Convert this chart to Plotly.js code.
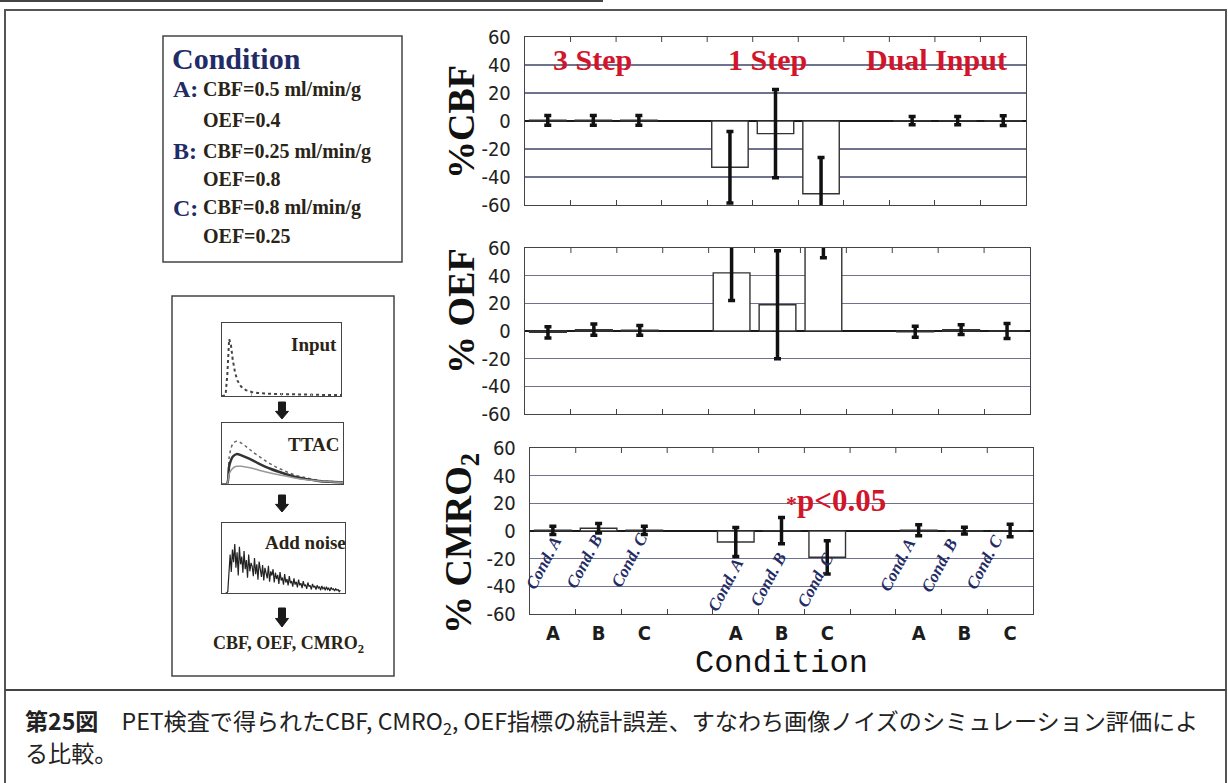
<!DOCTYPE html>
<html>
<head>
<meta charset="utf-8">
<script src="https://cdn.plot.ly/plotly-3.0.1.min.js"></script>
<style>
  html, body { margin: 0; padding: 0; background: #ffffff; }
  #fig { width: 1228px; height: 783px; }
</style>
</head>
<body>
<div id="fig"></div>
<script>
// ---- data ----
const methods = ['3 Step', '1 Step', 'Dual Input'];
const conditions = ['A', 'B', 'C'];

// percent error of each estimate (mean and SD) per method / condition
const cbfMean  = [0.5, 0.5, 0.5, -33, -9, -52, 0.3, 0.3, 0.3];
const cbfSD    = [3.5, 3.5, 3.5, 25.5, 31.5, 26, 3, 3, 3.5];
const oefMean  = [-1, 1, 0.5, 42, 19, 75, -0.5, 1, 0];
const oefSD    = [4, 4, 3.5, 20, 39, 22, 4, 3.5, 5.5];
const cmroMean = [0.5, 2, 0.5, -8, 0.3, -19, 0.5, 0.3, 0.3];
const cmroSD   = [3, 3.5, 3, 10.5, 9.5, 12, 4, 2.5, 4.5];

const yTicks = [60, 40, 20, 0, -20, -40, -60];
const yTickLabels = ['60', '40', '20', '0', '-20', '-40', '-60'];

const conditionNotes = [
  ['A:', 'CBF=0.5 ml/min/g'], ['', 'OEF=0.4'],
  ['B:', 'CBF=0.25 ml/min/g'], ['', 'OEF=0.8'],
  ['C:', 'CBF=0.8 ml/min/g'], ['', 'OEF=0.25']
];

// simulation flow thumbnails
const inputT = [0, 3, 4.5, 6, 7.5, 9, 11, 13, 16, 20, 25, 30, 40, 55, 70, 85, 100];
const inputC = [0, 1, 30, 78, 70, 50, 32, 21, 13, 8, 5.5, 4.2, 3, 2.2, 1.8, 1.5, 1.4];
const ttacT    = [0, 4, 6, 9, 12, 16, 22, 30, 40, 50, 60, 70, 80, 90, 100];
const ttacHigh = [0, 0, 45, 66, 70, 67, 58, 46, 33, 23, 15, 10, 6, 4, 3];
const ttacMid  = [0, 0, 30, 45, 49, 47, 42, 34, 25, 18, 12, 8, 5, 3.5, 2.5];
const ttacLow  = [0, 0, 17, 26, 29, 29, 27, 23, 18, 14, 10, 7, 5, 3.5, 2.5];
const noisyTTAC = [0, 0, 2, 38, 55, 30, 62, 44, 70, 36, 58, 25, 66, 41, 52, 29, 60, 34, 47, 22,
                   55, 31, 43, 38, 24, 50, 27, 41, 19, 45, 33, 23, 40, 18, 36, 28, 21, 39, 16, 31,
                   25, 34, 15, 29, 20, 26, 13, 30, 18, 22, 12, 27, 15, 20, 11, 24, 14, 17, 9, 21,
                   12, 16, 8, 19, 11, 14, 7, 17, 10, 12, 6, 15, 9, 11, 5, 13, 8, 10, 5, 11,
                   7, 9, 4, 10, 6, 8, 4, 9, 5, 7, 3, 8, 5, 6, 3, 6, 4, 5, 2, 4];

const captionLine1 = '<b>第25図</b>　PET検査で得られたCBF, CMRO<sub>2</sub>, OEF指標の統計誤差、すなわち画像ノイズのシミュレーション評価によ';
const captionLine2 = 'る比較。';

// ---- helpers: page pixels -> paper fractions ----
const W = 1228, H = 783;
const px = v => v / W;
const py = v => 1 - v / H;

// category slots: three conditions per method, an empty slot between methods
const barCats = [];
const slotCats = [];
const slotText = [];
methods.forEach((m, g) => {
  conditions.forEach(c => {
    barCats.push(m + ' ' + c); slotCats.push(m + ' ' + c); slotText.push(c);
  });
  if (g < methods.length - 1) { slotCats.push('gap ' + g); slotText.push(''); }
});

const SERIF = 'Liberation Serif, Times New Roman, serif';
const NARROW = 'Liberation Sans Narrow, DejaVu Sans Condensed, Arial Narrow, sans-serif';
const RED = '#d2152b';
const NAVY = '#1f2c66';
const INK = '#2a2416';

function barTrace(mean, sd, xa, ya) {
  return {
    type: 'bar', x: barCats, y: mean, xaxis: xa, yaxis: ya, width: 0.8,
    marker: { color: '#ffffff', line: { color: '#333333', width: 1.4 } },
    error_y: { type: 'data', array: sd, visible: true, color: '#111111', thickness: 3.5, width: 3.5 },
    showlegend: false, hoverinfo: 'skip'
  };
}

const traces = [
  barTrace(cbfMean, cbfSD, 'x', 'y'),
  barTrace(oefMean, oefSD, 'x2', 'y2'),
  barTrace(cmroMean, cmroSD, 'x3', 'y3'),
  { type: 'scatter', mode: 'lines', x: inputT, y: inputC, xaxis: 'x4', yaxis: 'y4',
    line: { color: '#444', width: 2, dash: 'dot' }, showlegend: false, hoverinfo: 'skip' },
  { type: 'scatter', mode: 'lines', x: ttacT, y: ttacHigh, xaxis: 'x5', yaxis: 'y5',
    line: { color: '#666', width: 1.5, dash: 'dot', shape: 'spline' }, showlegend: false, hoverinfo: 'skip' },
  { type: 'scatter', mode: 'lines', x: ttacT, y: ttacMid, xaxis: 'x5', yaxis: 'y5',
    line: { color: '#333', width: 2.5, shape: 'spline' }, showlegend: false, hoverinfo: 'skip' },
  { type: 'scatter', mode: 'lines', x: ttacT, y: ttacLow, xaxis: 'x5', yaxis: 'y5',
    line: { color: '#999', width: 1.5, shape: 'spline' }, showlegend: false, hoverinfo: 'skip' },
  { type: 'scatter', mode: 'lines', y: noisyTTAC, xaxis: 'x6', yaxis: 'y6',
    line: { color: '#222', width: 1.2 }, showlegend: false, hoverinfo: 'skip' }
];

function barX(domain, anchor, showLabels) {
  return {
    domain: domain, anchor: anchor, type: 'category',
    categoryorder: 'array', categoryarray: slotCats, range: [-0.5, slotCats.length - 0.5], fixedrange: true,
    showline: true, mirror: true, linecolor: '#444', linewidth: 1.2,
    showgrid: false, zeroline: false,
    tickmode: 'array', tickvals: slotCats, ticktext: slotText,
    tickson: 'boundaries', ticks: 'inside', ticklen: 5, tickcolor: '#444', tickwidth: 1,
    showticklabels: showLabels, ticklabelstandoff: 1,
    tickfont: { family: NARROW, size: 20, color: '#1c1c1c', weight: 'bold' }
  };
}
function barY(domain, anchor) {
  return {
    domain: domain, anchor: anchor, range: [-60, 60], fixedrange: true,
    showline: true, mirror: true, linecolor: '#444', linewidth: 1.2,
    tickmode: 'array', tickvals: yTicks, ticktext: yTickLabels, ticks: '', ticklabelstandoff: 9,
    tickfont: { family: NARROW, size: 20, color: '#222' },
    showgrid: true, gridcolor: '#6f728c', gridwidth: 1.4,
    zeroline: true, zerolinecolor: '#1a1a1a', zerolinewidth: 2
  };
}
function thumbAxes(xd, yd, anchorX, anchorY) {
  return [
    { domain: xd, anchor: anchorY, range: [0, 100], showline: true, mirror: true, linecolor: '#444', linewidth: 1,
      showgrid: false, zeroline: false, showticklabels: false, ticks: '', fixedrange: true },
    { domain: yd, anchor: anchorX, range: [0, 100], showline: true, mirror: true, linecolor: '#444', linewidth: 1,
      showgrid: false, zeroline: false, showticklabels: false, ticks: '', fixedrange: true }
  ];
}

const [x4, y4] = thumbAxes([px(222), px(341)], [py(396), py(323)], 'x4', 'y4');
const [x5, y5] = thumbAxes([px(222), px(343)], [py(484), py(423)], 'x5', 'y5');
const [x6, y6] = thumbAxes([px(222), px(345)], [py(593), py(523)], 'x6', 'y6');
x6.range = [-3, noisyTTAC.length + 3];
x4.ticks = 'inside'; x4.tickmode = 'array'; x4.tickvals = [25, 50, 75]; x4.ticklen = 3; x4.tickcolor = '#aaa';

const annotations = [];
function note(x, y, text, font, extra) {
  annotations.push(Object.assign({ xref: 'paper', yref: 'paper', x: px(x), y: py(y), text: text,
    showarrow: false, font: font, xanchor: 'center', yanchor: 'middle' }, extra || {}));
}

// axis titles of the three panels
note(461, 122, '%CBF', { family: SERIF, size: 38, color: '#111', weight: 'bold' }, { textangle: -90 });
note(461, 311, '% OEF', { family: SERIF, size: 38, color: '#111', weight: 'bold' }, { textangle: -90 });
note(461, 544, '% CMRO<sub>2</sub>', { family: SERIF, size: 38, color: '#111', weight: 'bold' }, { textangle: -90 });

// method names across the top panel
const methodX = [592, 768, 936];
methods.forEach((m, i) => note(methodX[i], 59, m, { family: SERIF, size: 30, color: RED, weight: 'bold' }));

// significance mark
note(836, 501, '<span style="font-size:22px">*</span>p&lt;0.05', { family: SERIF, size: 31, color: RED, weight: 'bold' });

// condition tags under the bars of the lowest panel
const condTagX = [543, 584, 629, 725, 768, 815, 897, 939, 984];
const condTagY = [563, 561, 560, 585, 579, 580, 565, 565, 562];
barCats.forEach((n, i) => note(condTagX[i], condTagY[i], 'Cond. ' + conditions[i % 3],
  { family: SERIF, size: 17, color: NAVY, weight: 'bold', style: 'italic' }, { textangle: -62 }));

// condition definitions box
note(170, 58, 'Condition', { family: SERIF, size: 30, color: NAVY, weight: 'bold' }, { xanchor: 'left' });
const rowY = [89, 120, 151, 179, 208, 236];
conditionNotes.forEach((r, i) => {
  if (r[0]) note(171, rowY[i], r[0], { family: SERIF, size: 24, color: NAVY, weight: 'bold' }, { xanchor: 'left' });
  note(201, rowY[i], r[1], { family: SERIF, size: 20, color: INK, weight: 'bold' }, { xanchor: 'left' });
});

// simulation flow labels
note(314, 344, 'Input', { family: SERIF, size: 19, color: INK, weight: 'bold' });
note(313, 445, 'TTAC', { family: SERIF, size: 19, color: INK, weight: 'bold' });
note(305, 542, 'Add noise', { family: SERIF, size: 19, color: INK, weight: 'bold' });
note(288, 644, 'CBF, OEF, CMRO<sub>2</sub>', { family: SERIF, size: 18, color: INK, weight: 'bold' });

// caption
note(23, 721, captionLine1, { family: 'Noto Sans CJK JP, sans-serif', size: 23.1, color: '#222' }, { xanchor: 'left' });
note(23, 752, captionLine2, { family: 'Noto Sans CJK JP, sans-serif', size: 23.1, color: '#222' }, { xanchor: 'left' });

// frames, dividers and flow arrows
const shapes = [
  { type: 'line', xref: 'paper', yref: 'paper', x0: px(0), x1: px(603), y0: py(1), y1: py(1), line: { color: '#444', width: 2 } },
  { type: 'rect', xref: 'paper', yref: 'paper', x0: px(5), x1: px(1226), y0: py(10), y1: py(800), line: { color: '#555', width: 2 } },
  { type: 'line', xref: 'paper', yref: 'paper', x0: px(5), x1: px(1226), y0: py(690), y1: py(690), line: { color: '#444', width: 2 } },
  { type: 'rect', xref: 'paper', yref: 'paper', x0: px(163), x1: px(402), y0: py(36), y1: py(262), line: { color: '#444', width: 1.5 } },
  { type: 'rect', xref: 'paper', yref: 'paper', x0: px(172), x1: px(394), y0: py(296), y1: py(676), line: { color: '#444', width: 1.5 } }
];
function downArrow(cx, top, bottom) {
  const neck = top + (bottom - top) * 0.55;
  const pts = [[cx - 3.5, top], [cx + 3.5, top], [cx + 3.5, neck], [cx + 6.5, neck], [cx, bottom],
               [cx - 6.5, neck], [cx - 3.5, neck]];
  const d = pts.map((p, i) => (i ? 'L' : 'M') + px(p[0]).toFixed(5) + ',' + py(p[1]).toFixed(5)).join(' ') + ' Z';
  shapes.push({ type: 'path', xref: 'paper', yref: 'paper', path: d, fillcolor: '#1a1a1a', line: { color: '#1a1a1a', width: 1 } });
}
downArrow(282, 402, 419);
downArrow(282, 495, 512);
downArrow(282, 608, 627);

// slot-boundary ticks hanging from the top edge of each panel
[['x', 'y', 168], ['x2', 'y2', 166], ['x3', 'y3', 166]].forEach(([xr, yr, hPx]) => {
  for (let i = 0; i < slotCats.length - 1; i++) {
    shapes.push({ type: 'line', xref: xr, yref: yr + ' domain', x0: i + 0.5, x1: i + 0.5,
      y0: 1, y1: 1 - 5 / hPx, line: { color: '#444', width: 1 } });
  }
});

const xa3 = barX([px(530), px(1033)], 'y3', true);
xa3.title = { text: 'Condition', font: { family: 'Liberation Mono, DejaVu Sans Mono, monospace', size: 32, color: '#111' }, standoff: 2 };

const layout = {
  width: W, height: H,
  margin: { l: 0, r: 0, t: 0, b: 0, pad: 0 },
  paper_bgcolor: '#ffffff', plot_bgcolor: '#ffffff',
  showlegend: false, bargap: 0,
  xaxis: barX([px(525), px(1026)], 'y', false),
  yaxis: barY([py(205), py(37)], 'x'),
  xaxis2: barX([px(525), px(1030)], 'y2', false),
  yaxis2: barY([py(414), py(248)], 'x2'),
  xaxis3: xa3,
  yaxis3: barY([py(614), py(448)], 'x3'),
  xaxis4: x4, yaxis4: y4, xaxis5: x5, yaxis5: y5, xaxis6: x6, yaxis6: y6,
  annotations: annotations,
  shapes: shapes
};

Plotly.newPlot('fig', traces, layout, { displayModeBar: false, staticPlot: true });
</script>
</body>
</html>
